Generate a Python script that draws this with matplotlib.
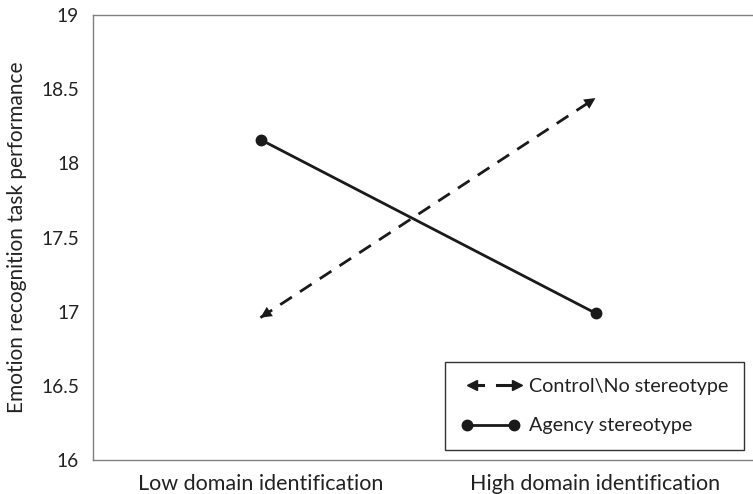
import matplotlib
matplotlib.use("Agg")
import matplotlib.pyplot as plt
from matplotlib.lines import Line2D
from matplotlib.legend_handler import HandlerBase
import numpy as np

categories = ["Low domain identification", "High domain identification"]
control_values = [16.96, 18.44]
agency_values = [18.16, 16.99]
series_names = ["Control\\No stereotype", "Agency stereotype"]
yticks = [16, 16.5, 17, 17.5, 18, 18.5, 19]
ytick_labels = ["16", "16.5", "17", "17.5", "18", "18.5", "19"]
ylabel = "Emotion recognition task performance"

plt.rcParams['font.family'] = ['Lato', 'DejaVu Sans']

W, H = 753, 494
fig = plt.figure(figsize=(W / 100, H / 100), dpi=100)
left, right = 93, 763
top, bottom = 15, 460
ax = fig.add_axes([left / W, 1 - bottom / H, (right - left) / W, (bottom - top) / H])

x = np.arange(len(categories))
ink = "#1a1a1a"

# Control: dashed line with arrowheads at both ends
ax.plot(x, control_values, color=ink, lw=2.0, linestyle=(0, (5, 3.5)), zorder=3)
for i0, i1 in [(0, 1), (1, 0)]:
    tip = (x[i1], control_values[i1])
    frac = 0.045
    back = (x[i1] + (x[i0] - x[i1]) * frac,
            control_values[i1] + (control_values[i0] - control_values[i1]) * frac)
    ax.annotate("", xy=tip, xytext=back,
                arrowprops=dict(arrowstyle="-|>,head_length=0.8,head_width=0.4",
                                color=ink, lw=0, shrinkA=0, shrinkB=0), zorder=4)

# Agency: solid line with round markers
ax.plot(x, agency_values, color=ink, lw=2.0, marker="o", markersize=7.5, zorder=3)

ax.set_xlim(-0.5, 1.5)
ax.set_ylim(16, 19)
ax.set_yticks(yticks)
ax.set_yticklabels(ytick_labels, fontsize=13.8, color="#222222")
ax.set_xticks(x)
ax.set_xticklabels(categories, fontsize=15.5, color="#222222")
ax.tick_params(axis="both", length=0)
ax.tick_params(axis="y", pad=10)
ax.tick_params(axis="x", pad=10)
ax.set_ylabel(ylabel, fontsize=15, color="#222222", labelpad=10)
for s in ["left", "bottom", "top"]:
    ax.spines[s].set_color("#808080")
    ax.spines[s].set_linewidth(1.0)
ax.spines["right"].set_visible(False)


class ArrowHandler(HandlerBase):
    def create_artists(self, legend, orig_handle, xdescent, ydescent, width, height, fontsize, trans):
        y = height / 2 - ydescent
        x0, x1 = -xdescent, -xdescent + width
        artists = []
        segs = [(x0 + 8, x0 + 0.38 * width, "<", x0 + 8),
                (x0 + 0.62 * width, x1 - 2, ">", x1 - 2)]
        for a, b, m, xm in segs:
            ln = Line2D([a, b], [y, y], color=ink, lw=2.2)
            ln.set_transform(trans)
            artists.append(ln)
            mk = Line2D([xm], [y], marker=m, color=ink, markersize=7.5, lw=0)
            mk.set_transform(trans)
            artists.append(mk)
        return artists


h_control = Line2D([], [], color=ink)
h_agency = Line2D([], [], color=ink, lw=2.0, marker="o", markersize=7.5)
leg = fig.legend([h_control, h_agency], series_names,
                 handler_map={h_control: ArrowHandler()},
                 loc="upper left", bbox_to_anchor=(445 / W, 1 - 362 / H),
                 borderaxespad=0, fontsize=14.2, frameon=True, fancybox=False,
                 edgecolor="black", handlelength=3.0, handletextpad=0.45,
                 labelspacing=1.15, borderpad=0.8, numpoints=2)
leg.get_frame().set_linewidth(1.0)
for t in leg.get_texts():
    t.set_color("#222222")

fig.savefig("out.png", dpi=100)
